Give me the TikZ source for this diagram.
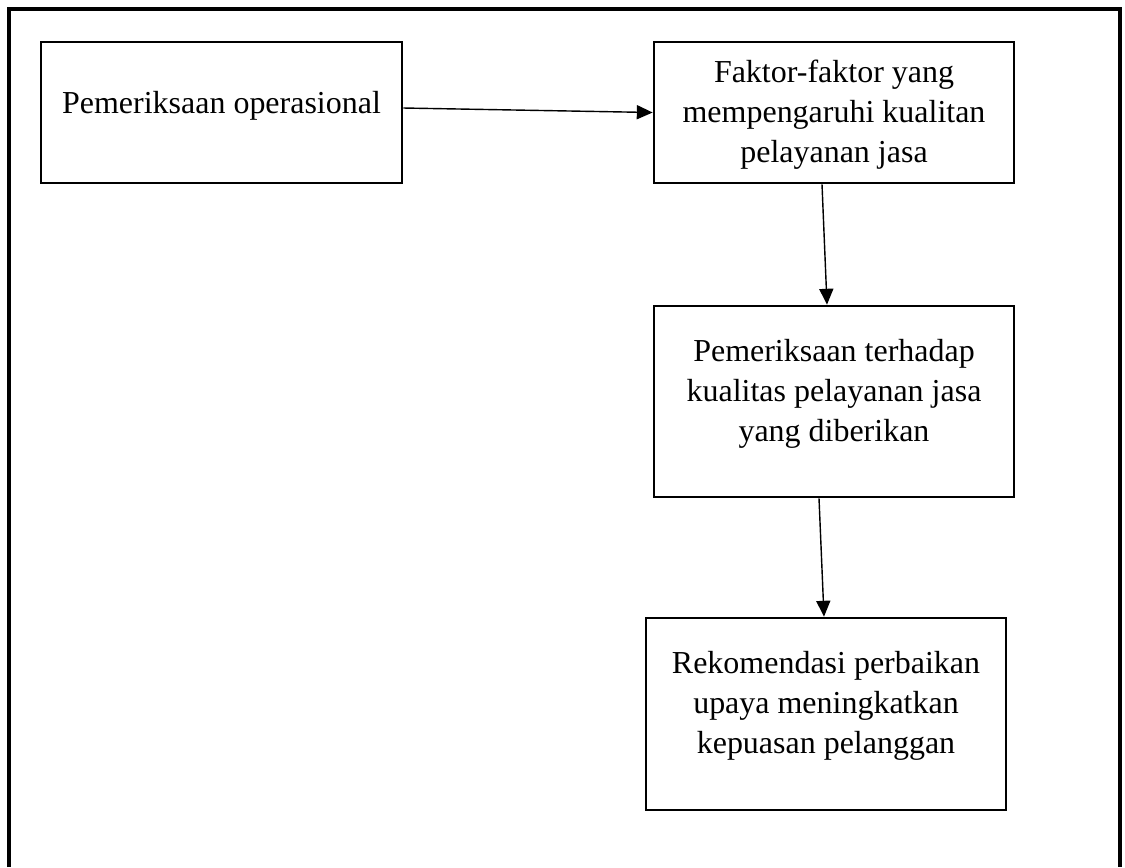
\documentclass[tikz,border=0pt]{standalone}
\usepackage{fontspec}
\setmainfont{Liberation Serif}
\usetikzlibrary{arrows.meta}
\tikzset{>=latex}
\tikzset{box/.style={draw,line width=1.6pt,align=center,inner sep=0pt,minimum width=7.2cm,font=\fontsize{18.2}{22.8}\selectfont}}
\tikzset{arr/.style={line width=0.8pt,-{Triangle[length=9pt,width=8pt]}}}

\begin{document}
\begin{tikzpicture}[x=0.02cm,y=-0.02cm]
                    \useasboundingbox (0,0) rectangle (1125,867);
                    \draw[line width=1.9pt] (9,867) -- (9,9) -- (1120,9) -- (1120,867);

                    \node[box,minimum width=7.22cm,minimum height=2.82cm,text depth=11.8pt] (ops) at (221.5,112.5) {Pemeriksaan operasional};
                    \node[box,minimum height=2.82cm,text depth=1pt] (fak) at (834,112.5) {Faktor-faktor yang\\mempengaruhi kualitan\\pelayanan jasa};
                    \node[box,minimum height=3.82cm,text depth=12.9pt] (check) at (834,401.5) {Pemeriksaan terhadap\\kualitas pelayanan jasa\\yang diberikan};
                    \node[box,minimum height=3.84cm,text depth=13.5pt] (rec) at (826,714) {Rekomendasi perbaikan\\upaya meningkatkan\\kepuasan pelanggan};

                    \draw[arr] ([shift={(0,-4.5)}]ops.east) -- (fak.west);
                    \draw[arr] ([shift={(-12,0)}]fak.south) -- ([shift={(-7,0)}]check.north);
                    \draw[arr] ([shift={(-15,0)}]check.south) -- ([shift={(-2,0)}]rec.north);
                \end{tikzpicture}
\end{document}
